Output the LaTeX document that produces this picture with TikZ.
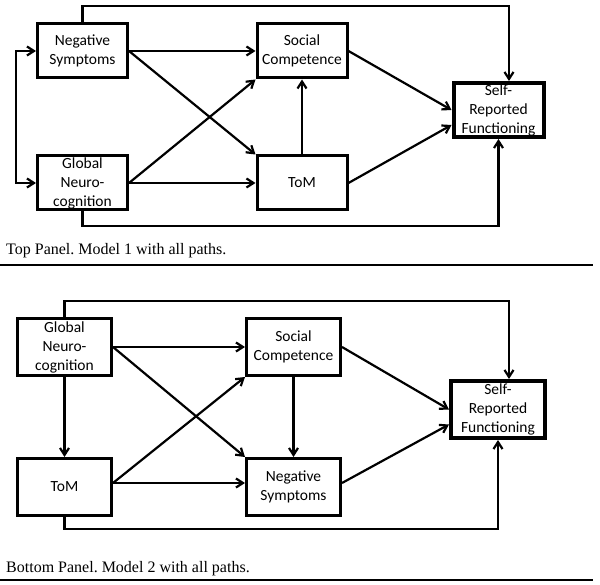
\documentclass[tikz,border=0pt]{standalone}
\usepackage{fontspec}
\setmainfont{Liberation Serif}
\newfontfamily\boxfont{Carlito}
\usetikzlibrary{arrows.meta}
\frenchspacing
\begin{document}
\begin{tikzpicture}[x=1pt,y=-1pt,
  box/.style={draw,line width=3pt,inner sep=0pt,align=center,
    font=\boxfont\fontsize{15.5}{19}\selectfont},
  topbox/.style={box,minimum width=90pt,minimum height=54pt},
  botbox/.style={box,minimum width=94pt,minimum height=57pt},
  outer/.style={line width=4pt},
  arr/.style={-{Straight Barb[length=7pt,width=9pt]},line width=2.2pt},
  dbl/.style={{Straight Barb[length=7pt,width=9pt]}-{Straight Barb[length=7pt,width=9pt]},line width=2.2pt},
  caption/.style={anchor=base west,inner sep=0pt,font=\fontsize{16}{19}\selectfont},
  rule/.style={line width=2.6pt}]
\useasboundingbox (0,0) rectangle (600,585);

% ---------- Top panel ----------
\node[topbox] (NS) at (82.5,51) {Negative\\Symptoms};
\node[topbox] (GN) at (82.5,183) {Global\\Neuro-\\cognition};
\node[topbox] (SC) at (302,51) {Social\\Competence};
\node[topbox] (TM) at (302,183) {ToM};
\node[topbox,outer] (SRF) at (498.5,110) {Self-\\Reported\\Functioning};

\coordinate (t1) at (0,6);
\coordinate (b1) at (0,226);
\coordinate (l1) at (16,0);

\draw[dbl] (NS.west) -- (NS.west -| l1) |- (GN.west);
\draw[arr] (NS.east) -- (SC.west);
\draw[arr] (NS.east) -- (TM.north west);
\draw[arr] (GN.east) -- (SC.south west);
\draw[arr] (GN.east) -- (TM.west);
\draw[arr] (TM.north) -- (SC.south);
\draw[arr] (SC.east) -- (SRF.west);
\draw[arr] (TM.east) -- ([yshift=-15pt]SRF.west);
\draw[arr] (NS.north) -- (NS.north |- t1) -| ([xshift=10.5pt]SRF.north);
\draw[arr] (GN.south) -- (GN.south |- b1) -| (SRF.south);

\node[caption] (cap1) at (6,255) {Top Panel. Model 1 with all paths.};
\coordinate (r1a) at (0,265);
\coordinate (r1b) at (593,265);
\draw[rule] (r1a) -- (r1b);

% ---------- Bottom panel ----------
\node[botbox] (GN2) at (64.5,347) {Global\\Neuro-\\cognition};
\node[botbox] (TM2) at (64.5,487) {ToM};
\node[botbox] (SC2) at (293.5,347) {Social\\Competence};
\node[botbox] (NS2) at (293.5,487) {Negative\\Symptoms};
\node[botbox,outer] (SRF2) at (498,409.5) {Self-\\Reported\\Functioning};

\coordinate (t2) at (0,301);
\coordinate (b2) at (0,529);

\draw[arr] (GN2.east) -- (SC2.west);
\draw[arr] (GN2.east) -- (NS2.north west);
\draw[arr] ([yshift=4pt]TM2.east) -- (SC2.south west);
\draw[arr] ([yshift=4pt]TM2.east) -- ([yshift=4pt]NS2.west);
\draw[arr] (GN2.south) -- (TM2.north);
\draw[arr] (SC2.south) -- (NS2.north);
\draw[arr] (SC2.east) -- (SRF2.west);
\draw[arr] ([yshift=4pt]NS2.east) -- ([yshift=-15pt]SRF2.west);
\draw[arr] (GN2.north) -- (GN2.north |- t2) -| ([xshift=11pt]SRF2.north);
\draw[arr] (TM2.south) -- (TM2.south |- b2) -| (SRF2.south);

\node[caption] (cap2) at (6,572) {Bottom Panel. Model 2 with all paths.};
\coordinate (r2a) at (0,580);
\coordinate (r2b) at (593,580);
\draw[rule] (r2a) -- (r2b);
\end{tikzpicture}
\end{document}
